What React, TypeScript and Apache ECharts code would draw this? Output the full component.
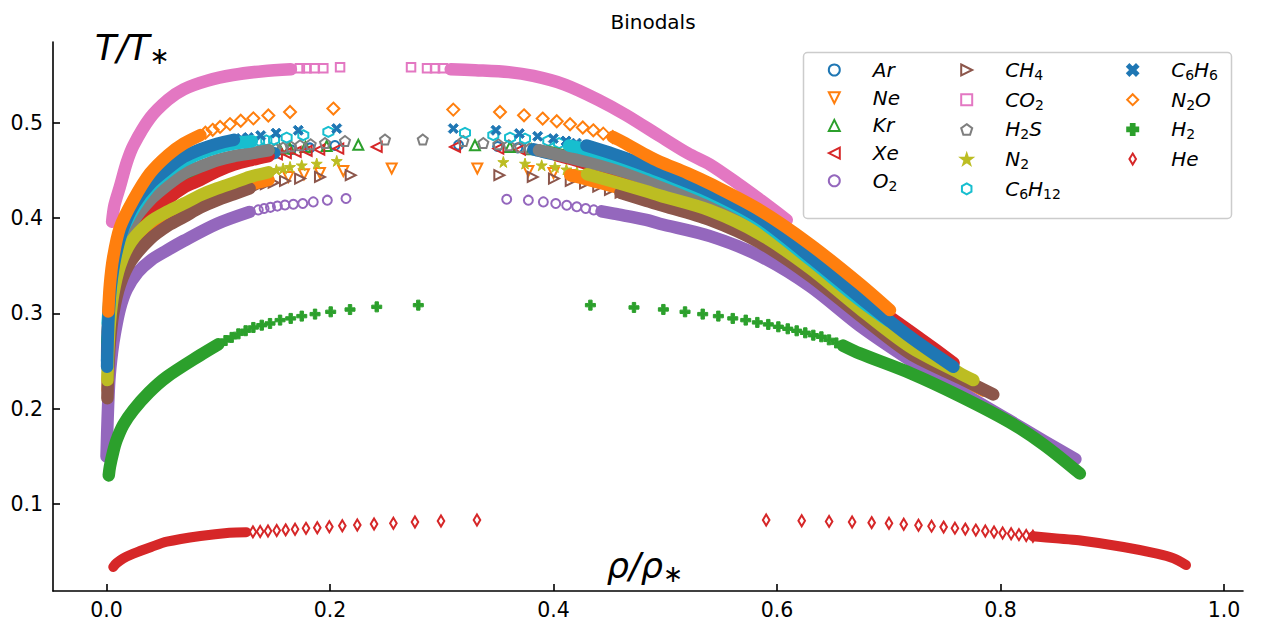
import React, { useEffect, useRef } from "react";
import * as echarts from "echarts";

// ---------- data (rho/rho*, T/T*) ----------
// Dense parts of each branch ("Band") and the individually visible markers ("Dots").

const arGasBand = [[0.0005,0.25],[0.001,0.28],[0.003,0.31],[0.007,0.34],[0.013,0.37],[0.024,0.395],[0.039,0.415],[0.055,0.43],[0.069,0.44],[0.084,0.448],[0.099,0.455],[0.114,0.46],[0.13,0.464],[0.15,0.468]];
const arGasDots = [[0.165,0.4715],[0.182,0.4735],[0.2044,0.476]];
const arLiqDots = [[0.315,0.4765],[0.35,0.475],[0.368,0.4735],[0.382,0.472]];
const arLiqBand = [[0.382,0.472],[0.4,0.467],[0.424,0.461],[0.454,0.45],[0.483,0.437],[0.54,0.411],[0.585,0.386],[0.63,0.35],[0.674,0.31],[0.72,0.27],[0.75,0.246]];

const neGasBand = [[0.001,0.22],[0.002,0.25],[0.004,0.28],[0.008,0.31],[0.014,0.34],[0.025,0.365],[0.039,0.385],[0.055,0.398],[0.069,0.407],[0.084,0.416],[0.099,0.423],[0.114,0.43],[0.128,0.435],[0.145,0.44]];
const neGasDots = [[0.1627,0.443],[0.1767,0.4459],[0.191,0.4473],[0.2119,0.4494],[0.2552,0.4519]];
const neLiqDots = [[0.3318,0.4519],[0.3775,0.4494],[0.4,0.4473],[0.415,0.445]];
const neLiqBand = [[0.415,0.445],[0.454,0.433],[0.483,0.422],[0.54,0.4],[0.585,0.376],[0.63,0.341],[0.674,0.3],[0.719,0.262],[0.76,0.234],[0.785,0.219]];

const krGasBand = [[0.001,0.27],[0.003,0.3],[0.007,0.33],[0.013,0.36],[0.024,0.39],[0.039,0.413],[0.055,0.43],[0.069,0.441],[0.084,0.449],[0.099,0.455],[0.114,0.46],[0.13,0.465],[0.145,0.4705]];
const krGasDots = [[0.155,0.472],[0.164,0.473],[0.178,0.4745],[0.197,0.4755],[0.2253,0.4768]];
const krLiqDots = [[0.3297,0.4763],[0.361,0.4745],[0.38,0.472],[0.395,0.4695]];
const krLiqBand = [[0.395,0.4695],[0.424,0.461],[0.454,0.449],[0.483,0.436],[0.54,0.41],[0.585,0.385],[0.63,0.348],[0.674,0.308],[0.71,0.275]];

const xeGasBand = [[0.001,0.26],[0.003,0.29],[0.007,0.32],[0.014,0.35],[0.025,0.378],[0.039,0.401],[0.055,0.42],[0.069,0.432],[0.084,0.44],[0.099,0.449],[0.114,0.456],[0.13,0.461],[0.145,0.465]];
const xeGasDots = [[0.1525,0.4667],[0.1605,0.468],[0.1693,0.4693],[0.1791,0.4703],[0.1904,0.4718],[0.2074,0.4728],[0.2418,0.4745]];
const xeLiqDots = [[0.3119,0.4745],[0.3506,0.4728],[0.37,0.4718],[0.3834,0.4703],[0.394,0.468],[0.4035,0.4655]];
const xeLiqBand = [[0.4035,0.4655],[0.424,0.459],[0.454,0.447],[0.483,0.434],[0.54,0.408],[0.585,0.383],[0.63,0.347],[0.674,0.316],[0.701,0.296],[0.73,0.272],[0.758,0.248]];

const o2GasBand = [[0,0.15],[0.001,0.19],[0.0025,0.23],[0.005,0.26],[0.0076,0.28],[0.012,0.305],[0.018,0.325],[0.028,0.343],[0.04,0.356],[0.054,0.366],[0.069,0.376],[0.099,0.394],[0.128,0.4064]];
const o2GasDots = [[0.1358,0.4085],[0.141,0.41],[0.1467,0.4112],[0.1529,0.4125],[0.1597,0.4136],[0.1672,0.4145],[0.1756,0.4152],[0.185,0.4169],[0.1976,0.4187],[0.2143,0.4204]];
const o2LiqDots = [[0.3581,0.4197],[0.3775,0.4187],[0.3909,0.4169],[0.402,0.4152],[0.4118,0.4134],[0.4208,0.4118],[0.4288,0.41],[0.436,0.4085],[0.443,0.407]];
const o2LiqBand = [[0.443,0.407],[0.454,0.4045],[0.483,0.398],[0.495,0.394],[0.54,0.381],[0.585,0.36],[0.63,0.328],[0.674,0.287],[0.719,0.251],[0.764,0.218],[0.806,0.189],[0.839,0.166],[0.867,0.147]];

const ch4GasBand = [[0.0008,0.211],[0.0015,0.24],[0.003,0.27],[0.006,0.3],[0.012,0.33],[0.022,0.355],[0.039,0.378],[0.055,0.392],[0.069,0.401],[0.084,0.411],[0.099,0.4187],[0.114,0.425],[0.128,0.431]];
const ch4GasDots = [[0.1358,0.4335],[0.1425,0.4355],[0.1495,0.437],[0.1597,0.4389],[0.1732,0.4414],[0.191,0.4431],[0.2185,0.4449]];
const ch4LiqDots = [[0.3515,0.4449],[0.3814,0.4431],[0.4004,0.4414],[0.4154,0.4389],[0.4282,0.4362],[0.44,0.433],[0.4505,0.4295],[0.46,0.4265]];
const ch4LiqBand = [[0.46,0.4265],[0.483,0.418],[0.495,0.414],[0.54,0.398],[0.585,0.374],[0.63,0.339],[0.674,0.298],[0.719,0.258],[0.764,0.232],[0.7935,0.215]];

const co2GasBand = [[0.005,0.396],[0.007,0.413],[0.012,0.433],[0.018,0.458],[0.024,0.476],[0.039,0.505],[0.055,0.524],[0.069,0.535],[0.09,0.544],[0.113,0.55],[0.14,0.554],[0.165,0.556]];
const co2GasDots = [[0.173,0.557],[0.179,0.557],[0.186,0.557],[0.194,0.557],[0.209,0.558]];
const co2LiqDots = [[0.2725,0.558],[0.2868,0.557],[0.294,0.557],[0.301,0.557]];
const co2LiqBand = [[0.308,0.556],[0.33,0.555],[0.36,0.553],[0.382,0.549],[0.41,0.54],[0.44,0.524],[0.465,0.508],[0.495,0.486],[0.52,0.468],[0.54,0.456],[0.565,0.436],[0.585,0.419],[0.6087,0.398]];

const h2sGasBand = [[0.001,0.28],[0.003,0.31],[0.007,0.34],[0.013,0.37],[0.024,0.397],[0.039,0.419],[0.055,0.435],[0.069,0.4467],[0.084,0.454],[0.099,0.4606],[0.114,0.465],[0.128,0.4676],[0.145,0.471]];
const h2sGasDots = [[0.1515,0.4725],[0.158,0.474],[0.1648,0.4753],[0.1732,0.4763],[0.1827,0.4774],[0.1955,0.4787],[0.2134,0.4808],[0.2492,0.4823]];
const h2sLiqDots = [[0.283,0.4823],[0.3193,0.4808],[0.3372,0.4787],[0.3506,0.4774],[0.36,0.4763],[0.37,0.4745],[0.3785,0.4728],[0.387,0.471]];
const h2sLiqBand = [[0.387,0.471],[0.395,0.469],[0.424,0.4606],[0.454,0.452],[0.483,0.441],[0.54,0.415],[0.585,0.39],[0.63,0.352],[0.674,0.311],[0.7,0.285]];

const n2GasBand = [[0.0008,0.23],[0.0015,0.26],[0.003,0.29],[0.006,0.32],[0.012,0.35],[0.022,0.375],[0.039,0.396],[0.055,0.407],[0.069,0.415],[0.084,0.424],[0.099,0.431],[0.114,0.437],[0.128,0.443],[0.145,0.448]];
const n2GasDots = [[0.152,0.4505],[0.158,0.452],[0.1642,0.4536],[0.1747,0.4553],[0.1881,0.4571],[0.206,0.4599]];
const n2LiqDots = [[0.3551,0.4588],[0.3745,0.4571],[0.3894,0.4553],[0.4013,0.4536],[0.4115,0.451],[0.421,0.4485],[0.43,0.446]];
const n2LiqBand = [[0.43,0.446],[0.454,0.438],[0.483,0.428],[0.495,0.4235],[0.54,0.408],[0.585,0.383],[0.63,0.347],[0.674,0.305],[0.719,0.265],[0.764,0.237],[0.7757,0.23]];

const c6h12GasBand = [[0.001,0.29],[0.003,0.32],[0.006,0.35],[0.012,0.38],[0.022,0.405],[0.039,0.433],[0.055,0.449],[0.069,0.46],[0.084,0.468],[0.099,0.474],[0.114,0.478],[0.13,0.4805]];
const c6h12GasDots = [[0.1365,0.481],[0.143,0.4815],[0.1499,0.4823],[0.1612,0.4844],[0.1761,0.4868],[0.1985,0.4903]];
const c6h12LiqDots = [[0.3208,0.4892],[0.3461,0.4868],[0.3611,0.4844],[0.3745,0.4833],[0.3953,0.4808],[0.405,0.4785],[0.414,0.476]];
const c6h12LiqBand = [[0.414,0.476],[0.424,0.4735],[0.454,0.464],[0.483,0.452],[0.54,0.425],[0.585,0.397],[0.63,0.356],[0.674,0.314],[0.7,0.292]];

const c6h6GasBand = [[0.0005,0.244],[0.001,0.27],[0.002,0.3],[0.004,0.33],[0.008,0.36],[0.015,0.39],[0.025,0.415],[0.039,0.436],[0.055,0.452],[0.069,0.464],[0.084,0.472],[0.099,0.478],[0.114,0.482]];
const c6h6GasDots = [[0.1205,0.4835],[0.1269,0.4845],[0.138,0.4865],[0.1517,0.489],[0.1716,0.492],[0.206,0.4938]];
const c6h6LiqDots = [[0.3103,0.4938],[0.3485,0.492],[0.3694,0.4886],[0.3858,0.4857],[0.3998,0.4833],[0.4112,0.4808],[0.4205,0.4785],[0.4295,0.476]];
const c6h6LiqBand = [[0.4295,0.476],[0.454,0.467],[0.483,0.455],[0.495,0.4495],[0.54,0.428],[0.585,0.4],[0.63,0.359],[0.674,0.317],[0.719,0.2754],[0.7578,0.2439]];

const n2oGasBand = [[0.0016,0.302],[0.003,0.33],[0.006,0.359],[0.012,0.39],[0.024,0.419],[0.039,0.447],[0.055,0.466],[0.069,0.478],[0.084,0.487]];
const n2oGasDots = [[0.0885,0.4895],[0.095,0.4925],[0.1016,0.4955],[0.1105,0.4985],[0.1201,0.502],[0.1314,0.5045],[0.1448,0.5075],[0.1642,0.5112],[0.203,0.5148]];
const n2oLiqDots = [[0.3103,0.5137],[0.3521,0.5112],[0.3736,0.5077],[0.3903,0.5043],[0.4029,0.5015],[0.4148,0.4983],[0.4262,0.4949],[0.4356,0.492],[0.4445,0.4885],[0.453,0.485]];
const n2oLiqBand = [[0.453,0.485],[0.4624,0.4795],[0.483,0.466],[0.495,0.459],[0.52,0.447],[0.54,0.436],[0.585,0.408],[0.63,0.372],[0.674,0.331],[0.7011,0.3034]];

const h2GasBand = [[0.002,0.13],[0.003,0.139],[0.006,0.155],[0.009,0.167],[0.015,0.183],[0.024,0.1985],[0.038,0.217],[0.054,0.2334],[0.084,0.2562],[0.1,0.2675]];
const h2GasDots = [[0.1065,0.2715],[0.112,0.2748],[0.118,0.2785],[0.1245,0.2818],[0.1314,0.2852],[0.1389,0.2876],[0.1463,0.2894],[0.1553,0.2929],[0.1648,0.2947],[0.1747,0.2971],[0.1866,0.2992],[0.2006,0.3016],[0.2179,0.304],[0.2418,0.3068],[0.279,0.3086]];
const h2LiqDots = [[0.433,0.3086],[0.472,0.3062],[0.4983,0.3041],[0.5177,0.3016],[0.5335,0.2992],[0.5475,0.2971],[0.5604,0.2947],[0.572,0.2929],[0.5824,0.2905],[0.5922,0.2884],[0.6012,0.2859],[0.6096,0.2838],[0.6176,0.2817],[0.6253,0.2796],[0.6325,0.2771],[0.6397,0.2754],[0.6465,0.2722],[0.653,0.269],[0.659,0.2662]];
const h2LiqBand = [[0.659,0.2662],[0.674,0.258],[0.72,0.237],[0.764,0.213],[0.808,0.186],[0.839,0.162],[0.871,0.132]];

const heGasBand = [[0.006,0.034],[0.009,0.038],[0.015,0.043],[0.024,0.048],[0.04,0.055],[0.054,0.0605],[0.084,0.0665],[0.11,0.07],[0.125,0.0705]];
const heGasDots = [[0.131,0.0708],[0.1375,0.0712],[0.1445,0.0717],[0.1523,0.0722],[0.1603,0.0729],[0.1687,0.0736],[0.1785,0.0745],[0.1886,0.0752],[0.1994,0.0762],[0.211,0.0773],[0.2244,0.078],[0.2394,0.079],[0.2567,0.0798],[0.276,0.0811],[0.2993,0.0822],[0.3315,0.0832]];
const heLiqDots = [[0.5903,0.0832],[0.6221,0.0825],[0.6466,0.0818],[0.6672,0.0812],[0.6847,0.0805],[0.7002,0.0798],[0.7134,0.0788],[0.7266,0.0778],[0.7383,0.0768],[0.7491,0.0758],[0.7592,0.0747],[0.7685,0.0737],[0.7779,0.0727],[0.7864,0.0717],[0.7942,0.0707],[0.8019,0.0697],[0.8095,0.0688],[0.8165,0.0679],[0.823,0.067],[0.829,0.0662]];
const heLiqBand = [[0.829,0.0662],[0.85,0.064],[0.87,0.062],[0.91,0.055],[0.94,0.048],[0.955,0.043],[0.966,0.036]];

const X_TICKS = [0, 0.2, 0.4, 0.6, 0.8, 1.0];
const Y_TICKS = [0.1, 0.2, 0.3, 0.4, 0.5];
const LEGEND_COL1 = ["Ar", "Ne", "Kr", "Xe", "O2"];
const LEGEND_COL2 = ["CH4", "CO2", "H2S", "N2", "C6H12"];
const LEGEND_COL3 = ["C6H6", "N2O", "H2", "He"];

// ---------- styles ----------
const FONT = "DejaVu Sans";
const TRI_DOWN = "path://M0,0L2,0L1,2Z";
const TRI_UP = "path://M1,0L2,2L0,2Z";
const TRI_LEFT = "path://M0,1L2,0L2,2Z";
const TRI_RIGHT = "path://M0,0L2,1L0,2Z";
const PENTAGON = "path://M1,0L1.951,0.691L1.588,1.809L0.412,1.809L0.049,0.691Z";
const HEXAGON = "path://M1,0L1.866,0.5L1.866,1.5L1,2L0.134,1.5L0.134,0.5Z";
const STAR = "path://M1,0L1.2245,0.691L1.951,0.691L1.3633,1.118L1.588,1.809L1,1.382L0.412,1.809L0.6367,1.118L0.049,0.691L0.7755,0.691Z";
const XMARK = "path://M0.2,0L0.5,0.3L0.8,0L1,0.2L0.7,0.5L1,0.8L0.8,1L0.5,0.7L0.2,1L0,0.8L0.3,0.5L0,0.2Z";
const PLUS = "path://M0.33,0H0.67V0.33H1V0.67H0.67V1H0.33V0.67H0V0.33H0.33Z";
const THIN_DIAMOND = "path://M3,0L6,5L3,10L0,5Z";

const SERIES_DEF: any[] = [
  { name: "Ar", label: "{m|Ar}", color: "#1f77b4", symbol: "circle", size: 9, filled: false, gasBand: arGasBand, gasDots: arGasDots, liqDots: arLiqDots, liqBand: arLiqBand },
  { name: "Ne", label: "{m|Ne}", color: "#ff7f0e", symbol: TRI_DOWN, size: 10, filled: false, gasBand: neGasBand, gasDots: neGasDots, liqDots: neLiqDots, liqBand: neLiqBand },
  { name: "Kr", label: "{m|Kr}", color: "#2ca02c", symbol: TRI_UP, size: 10, filled: false, gasBand: krGasBand, gasDots: krGasDots, liqDots: krLiqDots, liqBand: krLiqBand },
  { name: "Xe", label: "{m|Xe}", color: "#d62728", symbol: TRI_LEFT, size: 10, filled: false, gasBand: xeGasBand, gasDots: xeGasDots, liqDots: xeLiqDots, liqBand: xeLiqBand },
  { name: "O2", label: "{m|O}{b|2}", color: "#9467bd", symbol: "circle", size: 9, filled: false, gasBand: o2GasBand, gasDots: o2GasDots, liqDots: o2LiqDots, liqBand: o2LiqBand },
  { name: "CH4", label: "{m|CH}{b|4}", color: "#8c564b", symbol: TRI_RIGHT, size: 10, filled: false, gasBand: ch4GasBand, gasDots: ch4GasDots, liqDots: ch4LiqDots, liqBand: ch4LiqBand },
  { name: "CO2", label: "{m|CO}{b|2}", color: "#e377c2", symbol: "rect", size: 8.5, filled: false, gasBand: co2GasBand, gasDots: co2GasDots, liqDots: co2LiqDots, liqBand: co2LiqBand },
  { name: "H2S", label: "{m|H}{b|2}{m|S}", color: "#7f7f7f", symbol: PENTAGON, size: 10, filled: false, gasBand: h2sGasBand, gasDots: h2sGasDots, liqDots: h2sLiqDots, liqBand: h2sLiqBand },
  { name: "N2", label: "{m|N}{b|2}", color: "#bcbd22", symbol: STAR, size: 11, filled: true, gasBand: n2GasBand, gasDots: n2GasDots, liqDots: n2LiqDots, liqBand: n2LiqBand },
  { name: "C6H12", label: "{m|C}{b|6}{m|H}{b|12}", color: "#17becf", symbol: HEXAGON, size: 10, filled: false, gasBand: c6h12GasBand, gasDots: c6h12GasDots, liqDots: c6h12LiqDots, liqBand: c6h12LiqBand },
  { name: "C6H6", label: "{m|C}{b|6}{m|H}{b|6}", color: "#1f77b4", symbol: XMARK, size: 10, filled: true, gasBand: c6h6GasBand, gasDots: c6h6GasDots, liqDots: c6h6LiqDots, liqBand: c6h6LiqBand },
  { name: "N2O", label: "{m|N}{b|2}{m|O}", color: "#ff7f0e", symbol: "diamond", size: 12, filled: false, gasBand: n2oGasBand, gasDots: n2oGasDots, liqDots: n2oLiqDots, liqBand: n2oLiqBand },
  { name: "H2", label: "{m|H}{b|2}", color: "#2ca02c", symbol: PLUS, size: 10, filled: true, gasBand: h2GasBand, gasDots: h2GasDots, liqDots: h2LiqDots, liqBand: h2LiqBand },
  { name: "He", label: "{m|He}", color: "#d62728", symbol: THIN_DIAMOND, size: 11, filled: false, keepAspect: true, gasBand: heGasBand, gasDots: heGasDots, liqDots: heLiqDots, liqBand: heLiqBand },
];

const BAND_WIDTH = 12.5;

function buildOption() {
  const series: any[] = [];
  SERIES_DEF.forEach((s) => {
    const width = s.name === "He" ? 10 : BAND_WIDTH;
    const band = (suffix: string, data: number[][]) => ({
      type: "line",
      name: s.name + " " + suffix,
      data,
      smooth: 0.3,
      symbol: "none",
      showSymbol: false,
      silent: true,
      lineStyle: { color: s.color, width, cap: "round", join: "round" },
      itemStyle: { color: s.color },
      emphasis: { disabled: true },
    });
    series.push(band("gas", s.gasBand));
    series.push(band("liquid", s.liqBand));
    series.push({
      type: "scatter",
      name: s.name,
      data: [...s.gasDots, ...s.liqDots],
      symbol: s.symbol,
      symbolSize: s.size,
      symbolKeepAspect: !!s.keepAspect,
      silent: true,
      itemStyle: {
        color: s.filled ? s.color : "rgba(255,255,255,0)",
        borderColor: s.color,
        borderWidth: s.filled ? 1 : 2,
        opacity: 1,
      },
      emphasis: { disabled: true },
    });
  });

  const labelOf: Record<string, string> = {};
  SERIES_DEF.forEach((s) => (labelOf[s.name] = s.label));

  const legendRich = {
    sp: { width: 28 },
    m: { fontSize: 20, fontStyle: "italic", fontFamily: FONT, color: "#000", lineHeight: 24 },
    b: { fontSize: 14, fontFamily: FONT, color: "#000", lineHeight: 14, verticalAlign: "bottom" },
  };
  const legend = (names: string[], left: number) => ({
    orient: "vertical",
    left,
    top: 60,
    padding: 0,
    itemWidth: 11,
    itemHeight: 11,
    itemGap: 7.7,
    selectedMode: false,
    z: 6,
    data: names,
    formatter: (n: string) => "{sp| }" + labelOf[n],
    textStyle: { rich: legendRich, fontFamily: FONT, fontSize: 20, color: "#000" },
  });

  const axisCommon = {
    type: "value",
    axisLine: { show: true, onZero: false, lineStyle: { color: "#000", width: 1.6 } },
    splitLine: { show: false },
  };
  const tickLabel = {
    formatter: (v: number) => v.toFixed(1),
    fontFamily: FONT,
    fontSize: 20.5,
    color: "#000",
  };

  return {
    animation: false,
    backgroundColor: "#ffffff",
    title: {
      text: "Binodals",
      left: 648,
      top: 7,
      textAlign: "center",
      textStyle: { fontFamily: FONT, fontSize: 20, fontWeight: "normal", color: "#000" },
    },
    grid: { left: 53, right: 24, top: 42, bottom: 33 },
    xAxis: {
      ...axisCommon,
      min: -0.0479,
      max: 1.017,
      axisTick: { show: true, inside: true, length: 7, customValues: X_TICKS, lineStyle: { color: "#000", width: 1.6 } },
      axisLabel: { ...tickLabel, customValues: X_TICKS, margin: 8 },
    },
    yAxis: {
      ...axisCommon,
      min: 0.0088,
      max: 0.5846,
      axisTick: { show: true, inside: true, length: 7, customValues: Y_TICKS, lineStyle: { color: "#000", width: 1.6 } },
      axisLabel: { ...tickLabel, customValues: Y_TICKS, margin: 10 },
    },
    legend: [legend(LEGEND_COL1, 827.8), legend(LEGEND_COL2, 960.2), legend(LEGEND_COL3, 1126.2)],
    graphic: [
      {
        type: "rect",
        z: 5,
        silent: true,
        shape: { x: 803.5, y: 52.5, width: 428, height: 166, r: 4 },
        style: { fill: "rgba(255,255,255,0.8)", stroke: "#cccccc", lineWidth: 1.5 },
      },
      {
        type: "text",
        z: 6,
        silent: true,
        x: 95,
        y: 48,
        style: {
          text: "{a|T/T}{s|∗}",
          verticalAlign: "middle",
          rich: {
            a: { fontSize: 35, fontStyle: "italic", fontFamily: FONT, fill: "#000", lineHeight: 40 },
            s: { fontSize: 24, fontFamily: FONT, fill: "#000", lineHeight: 26, verticalAlign: "bottom" },
          },
        },
      },
      {
        type: "text",
        z: 6,
        silent: true,
        x: 645,
        y: 566,
        style: {
          text: "{a|ρ/ρ}{s|∗}",
          align: "center",
          verticalAlign: "middle",
          rich: {
            a: { fontSize: 35, fontStyle: "italic", fontFamily: FONT, fill: "#000", lineHeight: 40 },
            s: { fontSize: 24, fontFamily: FONT, fill: "#000", lineHeight: 26, verticalAlign: "bottom" },
          },
        },
      },
    ],
    series,
  };
}

export default function App() {
  const ref = useRef<HTMLDivElement>(null);
  useEffect(() => {
    if (!ref.current) return;
    const chart = echarts.init(ref.current, undefined, { renderer: "svg" });
    chart.setOption(buildOption() as any);
    return () => chart.dispose();
  }, []);
  return (
    <div
      ref={ref}
      style={{ position: "fixed", left: 0, top: 0, width: 1267, height: 624, background: "#fff" }}
    />
  );
}
